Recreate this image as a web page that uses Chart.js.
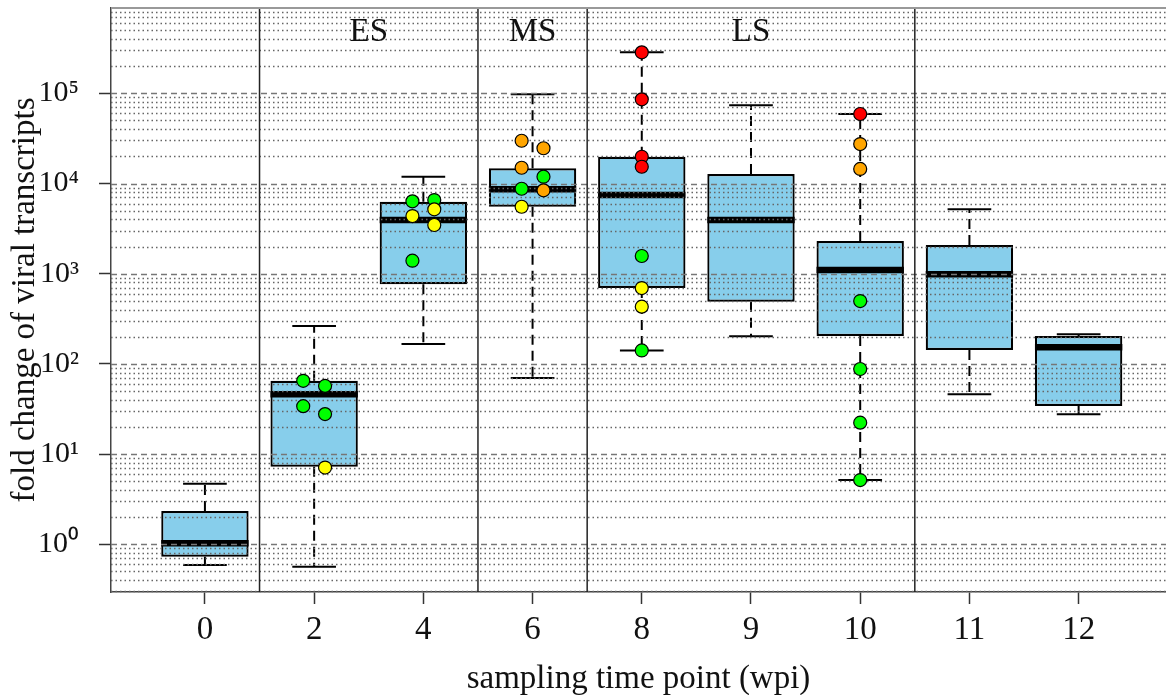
<!DOCTYPE html>
<html>
<head>
<meta charset="utf-8">
<script src="https://cdn.jsdelivr.net/npm/chart.js@4.4.0/dist/chart.umd.min.js"></script>
<style>
  html, body { margin: 0; padding: 0; background: #fff; }
</style>
</head>
<body>
<canvas id="boxChart" width="1166" height="695"></canvas>
<script>
//! ===== data ===== //
const weeks = ['0', '2', '4', '6', '8', '9', '10', '11', '12'];
const whiskerLow  = [0.59, 0.565, 166, 70, 141, 202, 5.16, 46, 27.6];
const q1          = [0.73, 7.25, 763, 5530, 694, 490, 204, 143, 34.2];
const median      = [1.03, 46, 3940, 8620, 7450, 3940, 1100, 985, 153];
const q3          = [2.34, 65, 6280, 14730, 19800, 12740, 2305, 2080, 204];
const whiskerHigh = [4.7, 263, 11900, 97500, 285000, 73600, 59000, 5175, 213];

// single samples : which box, small side shift, value, colour group
const sampleBox    = [1, 1, 1, 1, 1,  2, 2, 2, 2, 2, 2,  3, 3, 3, 3, 3, 3, 3,  4, 4, 4, 4, 4, 4, 4, 4,  6, 6, 6, 6, 6, 6, 6];
const sampleJitter = [-0.1, 0.1, -0.1, 0.1, 0.1,  -0.1, 0.1, -0.1, 0.1, 0.1, -0.1,  -0.1, 0.1, -0.1, 0.1, -0.1, 0.1, -0.1,  0, 0, 0, 0, 0, 0, 0, 0,  0, 0, 0, 0, 0, 0, 0];
const sampleValue  = [65, 57, 34, 27.8, 7.1,  6350, 6560, 4360, 5175, 3470, 1394,  29800, 24600, 14960, 11900, 8750, 8410, 5530,
                      285000, 85800, 19800, 15350, 1571, 694, 431, 141,  59000, 27400, 14500, 498, 87.8, 22.3, 5.16];
const sampleGroup  = ['g', 'g', 'g', 'g', 'y',  'g', 'g', 'y', 'y', 'y', 'g',  'o', 'o', 'o', 'g', 'g', 'o', 'y',
                      'r', 'r', 'r', 'r', 'g', 'y', 'y', 'g',  'r', 'o', 'o', 'g', 'g', 'g', 'g'];

// phases
const phaseBreaks = [1.5, 3.5, 4.5, 7.5];
const phaseNames = ['ES', 'MS', 'LS'];
const phaseCenters = [2.5, 4, 6];

const yTicks = [1, 10, 100, 1000, 10000, 100000];


//! ===== styles ===== //
const groupColors = { g: '#00ff00', y: '#ffff00', o: '#ffa500', r: '#ff0000' };
const BOX_HALF = 0.4;
const CAP_HALF = 0.2;
const FONT = 'Liberation Serif';
const FONT_SIZE = 33;
const sup = { '0': '\u2070', '1': '\u00b9', '2': '\u00b2', '3': '\u00b3', '4': '\u2074', '5': '\u2075' };

Chart.defaults.font.family = FONT;
Chart.defaults.color = '#111';


//! ===== build line pieces ===== //
const medianPts = [], whiskerPts = [], capPts = [];
weeks.forEach((w, i) => {
  const x = i + 1;
  medianPts.push({ x: x - BOX_HALF, y: median[i] }, { x: x + BOX_HALF, y: median[i] }, { x: x + 0.5, y: null });
  whiskerPts.push({ x: x, y: q3[i] }, { x: x, y: whiskerHigh[i] }, { x: x + 0.5, y: null });
  whiskerPts.push({ x: x, y: q1[i] }, { x: x, y: whiskerLow[i] }, { x: x + 0.5, y: null });
  capPts.push({ x: x - CAP_HALF, y: whiskerHigh[i] }, { x: x + CAP_HALF, y: whiskerHigh[i] }, { x: x + 0.5, y: null });
  capPts.push({ x: x - CAP_HALF, y: whiskerLow[i] }, { x: x + CAP_HALF, y: whiskerLow[i] }, { x: x + 0.5, y: null });
});

const samplePts = sampleValue.map((v, k) => ({ x: sampleBox[k] + 1 + sampleJitter[k], y: v }));


//! ===== plugin: grid over boxes, separators, phase names ===== //
const extras = {
  id: 'extras',
  beforeDatasetDraw(chart, args) {
    if (chart.data.datasets[args.index].label !== 'samples') return;
    const { ctx, chartArea: a, scales: { y } } = chart;
    ctx.save();
    for (let e = -1; e <= 5; e++) {
      for (let m = 1; m <= 9; m++) {
        const v = m * Math.pow(10, e);
        if (v < y.min || v > y.max) continue;
        const py = Math.round(y.getPixelForValue(v)) + 0.5;
        ctx.beginPath();
        if (m === 1) {
          ctx.setLineDash([6, 4]);
          ctx.strokeStyle = '#777';
        } else {
          ctx.setLineDash([1.5, 3]);
          ctx.strokeStyle = '#666';
        }
        ctx.lineWidth = 1.3;
        ctx.moveTo(a.left, py);
        ctx.lineTo(a.right, py);
        ctx.stroke();
      }
    }
    ctx.restore();
  },
  afterDatasetsDraw(chart) {
    const { ctx, chartArea: a, scales: { x } } = chart;
    ctx.save();
    ctx.strokeStyle = '#222';
    ctx.lineWidth = 1.5;
    phaseBreaks.forEach(b => {
      const px = x.getPixelForValue(b);
      ctx.beginPath();
      ctx.moveTo(px, a.top);
      ctx.lineTo(px, a.bottom);
      ctx.stroke();
    });
    // top frame
    ctx.strokeStyle = '#999';
    ctx.lineWidth = 2;
    ctx.beginPath();
    ctx.moveTo(a.left, a.top);
    ctx.lineTo(a.right, a.top);
    ctx.stroke();

    ctx.fillStyle = '#111';
    ctx.font = FONT_SIZE + 'px ' + FONT;
    ctx.textAlign = 'center';
    ctx.textBaseline = 'middle';
    phaseNames.forEach((n, i) => {
      ctx.fillText(n, x.getPixelForValue(phaseCenters[i]), a.top + 24);
    });
    ctx.restore();
  }
};


//! ===== chart ===== //
const ctx = document.getElementById('boxChart').getContext('2d');

new Chart(ctx, {
  type: 'bar',
  data: {
    datasets: [
      {
        label: 'boxes',
        data: weeks.map((w, i) => ({ x: i + 1, y: [q1[i], q3[i]] })),
        backgroundColor: '#87ceeb',
        borderColor: '#000',
        borderWidth: 2.2,
        borderSkipped: false,
        barPercentage: 1,
        categoryPercentage: 0.8,
        order: 5
      },
      {
        type: 'line',
        label: 'whiskers',
        data: whiskerPts,
        borderColor: '#000',
        borderWidth: 2,
        borderDash: [10, 6],
        pointRadius: 0,
        spanGaps: false,
        order: 4
      },
      {
        type: 'line',
        label: 'caps',
        data: capPts,
        borderColor: '#000',
        borderWidth: 2,
        pointRadius: 0,
        spanGaps: false,
        order: 3
      },
      {
        type: 'line',
        label: 'medians',
        data: medianPts,
        borderColor: '#000',
        borderWidth: 6.5,
        borderCapStyle: 'butt',
        pointRadius: 0,
        spanGaps: false,
        order: 2
      },
      {
        type: 'line',
        label: 'samples',
        data: samplePts,
        showLine: false,
        pointRadius: 6.5,
        pointBorderWidth: 1.2,
        pointBorderColor: '#000',
        pointBackgroundColor: sampleGroup.map(g => groupColors[g]),
        order: 0
      }
    ]
  },
  options: {
    responsive: false,
    animation: false,
    layout: { autoPadding: false, padding: { top: 8, left: 0, right: 0, bottom: 0 } },
    plugins: {
      legend: { display: false },
      tooltip: { enabled: false }
    },
    scales: {
      x: {
        type: 'linear',
        offset: false,
        min: 0.14,
        max: 9.8,
        afterBuildTicks: s => { s.ticks = weeks.map((w, i) => ({ value: i + 1 })); },
        afterFit: s => { s.height = 103; s.paddingLeft = 0; s.paddingRight = 0; },
        ticks: {
          callback: v => weeks[v - 1],
          autoSkip: false,
          maxRotation: 0,
          padding: 7,
          font: { size: FONT_SIZE }
        },
        grid: { offset: false, drawOnChartArea: false, drawTicks: true, tickLength: 12, tickColor: '#333', tickWidth: 1.5 },
        border: { color: '#444', width: 1.5 },
        title: {
          display: true,
          text: 'sampling time point (wpi)',
          font: { size: FONT_SIZE },
          padding: { top: 0, bottom: -4 }
        }
      },
      y: {
        type: 'logarithmic',
        min: 0.296,
        max: 883000,
        afterBuildTicks: s => { s.ticks = yTicks.map(v => ({ value: v })); },
        afterFit: s => { s.width = 111; s.paddingTop = 0; s.paddingBottom = 0; },
        ticks: {
          callback: v => '10' + String(Math.round(Math.log10(v))).split('').map(c => sup[c]).join(''),
          padding: 20,
          font: { size: 30 }
        },
        grid: { drawOnChartArea: false, drawTicks: true, tickLength: 12, tickColor: '#333', tickWidth: 1.5 },
        border: { color: '#444', width: 1.5 },
        title: {
          display: true,
          text: 'fold change of viral transcripts',
          font: { size: FONT_SIZE },
          padding: { top: 6, bottom: 0 }
        }
      }
    }
  },
  plugins: [extras]
});
</script>
</body>
</html>
